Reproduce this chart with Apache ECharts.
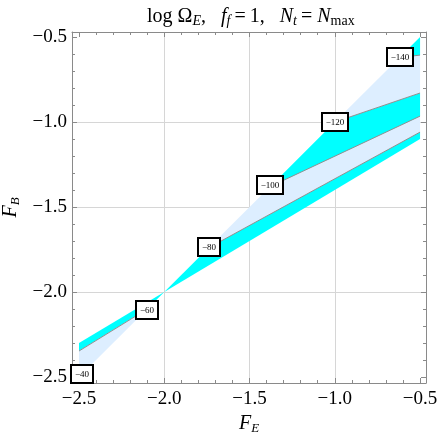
<!DOCTYPE html>
<html>
<head>
<meta charset="utf-8">
<script src="https://cdn.jsdelivr.net/npm/echarts@6/dist/echarts.min.js"></script>
<style>
html,body{margin:0;padding:0;background:#fff;}
#chart{width:441px;height:436px;}
</style>
</head>
<body>
<div id="chart"></div>
<script>
// contour labels, they sit on the F_B = F_E diagonal
const contourLevels = ['−40', '−60', '−80', '−100', '−120', '−140'];
const labelX = [-2.482, -2.101, -1.738, -1.377, -0.999, -0.617];
const labelY = [-2.482, -2.103, -1.732, -1.371, -0.997, -0.615];

// contour lines [start, end]
const line60 = [[-2.5, -2.347], [-2.1, -2.1]];
const line80 = [[-1.74, -1.74], [-0.5, -1.059]];
const line100 = [[-1.38, -1.38], [-0.5, -0.965]];
const line120 = [[-1.0, -1.0], [-0.5, -0.829]];
const line140 = [[-0.62, -0.62], [-0.5, -0.606]];

// filled bands between the contours
const cyanLeft = [[-2.5, -2.3], [-2.0, -2.0], [-2.1, -2.1], [-2.5, -2.347]];
const paleLeft = [[-2.5, -2.347], [-2.1, -2.1], [-2.5, -2.5]];
const cyanBand1 = [[-2.0, -2.0], [-1.74, -1.74], [-0.5, -1.059], [-0.5, -1.1]];
const paleBand2 = [[-1.74, -1.74], [-1.38, -1.38], [-0.5, -0.965], [-0.5, -1.059]];
const cyanBand3 = [[-1.38, -1.38], [-1.0, -1.0], [-0.5, -0.829], [-0.5, -0.965]];
const paleBand4 = [[-1.0, -1.0], [-0.62, -0.62], [-0.5, -0.606], [-0.5, -0.829]];
const cyanBand5 = [[-0.62, -0.62], [-0.5, -0.5], [-0.5, -0.606]];

const bands = [cyanLeft, paleLeft, cyanBand1, paleBand2, cyanBand3, paleBand4, cyanBand5];
const CYAN = '#00ffff', PALE = '#ddeeff';
const bandColors = [CYAN, PALE, CYAN, PALE, CYAN, PALE, CYAN];
const contourLines = [line60, line80, line100, line120, line140];

const serif = 'Liberation Serif';
const frameColor = '#8a8a8a';
const gridColor = '#d6d6d6';
const clear = 'rgba(0,0,0,0)';

function tickText(v) {
    if (Math.abs(v * 2 - Math.round(v * 2)) > 1e-6) return '';
    return v.toFixed(1).replace('-', '−');
}

function frameAxis(pos, min, max, labels, name) {
    const isX = pos === 'bottom' || pos === 'top';
    return {
        type: 'value',
        position: pos,
        min: min,
        max: max,
        name: name || '',
        nameLocation: 'middle',
        nameGap: isX ? 26 : 47,
        nameTextStyle: {
            rich: {
                i: { fontFamily: serif, fontStyle: 'italic', fontSize: 20, color: '#000' },
                s: { fontFamily: serif, fontStyle: 'italic', fontSize: 13, color: '#000', padding: [9, 0, 0, 0] }
            }
        },
        axisLine: { show: true, onZero: false, lineStyle: { color: frameColor, width: 1 } },
        axisTick: { show: true, inside: true, length: 5, lineStyle: { color: frameColor } },
        minorTick: { show: true, splitNumber: 5, length: 3, lineStyle: { color: frameColor } },
        axisLabel: {
            show: labels,
            formatter: tickText,
            fontFamily: serif,
            fontSize: 19,
            color: '#000',
            margin: isX ? 7 : 5
        },
        splitLine: {
            show: labels,
            // lines only at the inner major ticks
            lineStyle: { color: [clear, clear, gridColor, gridColor, gridColor, clear, clear], width: 1 }
        },
        minorSplitLine: { show: false }
    };
}

const chart = echarts.init(document.getElementById('chart'));

const option = {
    animation: false,
    title: {
        text: '{r|log Ω}{si|E}{r|,   }{i|f}{si|f}{r|\u2009=\u20091,   }{i|N}{si|t}{r|\u2009= }{i|N}{su|max}',
        left: 142,
        top: 0,
        textStyle: {
            fontWeight: 'normal',
            rich: {
                r: { fontFamily: serif, fontSize: 20, fontWeight: 'normal', color: '#000' },
                i: { fontFamily: serif, fontSize: 20, fontWeight: 'normal', fontStyle: 'italic', color: '#000' },
                si: { fontFamily: serif, fontSize: 14, fontWeight: 'normal', fontStyle: 'italic', color: '#000', padding: [9, 0, 0, 0] },
                su: { fontFamily: serif, fontSize: 14, fontWeight: 'normal', color: '#000', padding: [9, 0, 0, 0] }
            }
        }
    },
    grid: { left: 72, right: 15, top: 32, bottom: 53, outerBoundsMode: 'none', containLabel: false },
    xAxis: [
        frameAxis('bottom', -2.541, -0.465, true, '{i|F}{s|E}'),
        frameAxis('top', -2.541, -0.465, false)
    ],
    yAxis: [
        frameAxis('left', -2.535, -0.47, true, '{i|F}{s|B}'),
        frameAxis('right', -2.535, -0.47, false)
    ],
    series: [
        {
            type: 'custom',
            xAxisIndex: 0,
            yAxisIndex: 0,
            silent: true,
            z: 1,
            data: bands.map((b, i) => [b[0][0], b[0][1], i]),
            renderItem: function (params, api) {
                const poly = bands[params.dataIndex];
                return {
                    type: 'polygon',
                    shape: { points: poly.map(p => api.coord(p)) },
                    style: { fill: bandColors[params.dataIndex] }
                };
            }
        }
    ].concat(contourLines.map(d => ({
        type: 'line',
        data: d,
        xAxisIndex: 0,
        yAxisIndex: 0,
        showSymbol: false,
        silent: true,
        z: 2,
        color: '#8f8f8f',
        lineStyle: { color: '#8f8f8f', width: 1 }
    }))).concat([
        {
            // boxed contour labels
            type: 'custom',
            xAxisIndex: 0,
            yAxisIndex: 0,
            silent: true,
            z: 3,
            data: contourLevels.map((t, i) => [labelX[i], labelY[i], i]),
            renderItem: function (params, api) {
                const text = contourLevels[params.dataIndex];
                const c = api.coord([api.value(0), api.value(1)]);
                const cx = Math.round(c[0]), cy = Math.round(c[1]);
                const w = text.length > 3 ? 26 : 22, h = 18;
                return {
                    type: 'group',
                    children: [
                        {
                            type: 'rect',
                            shape: { x: cx - w / 2, y: cy - h / 2, width: w, height: h },
                            style: { fill: '#fff', stroke: '#000', lineWidth: 2 }
                        },
                        {
                            type: 'text',
                            style: {
                                text: text, x: cx, y: cy + 0.5,
                                align: 'center', verticalAlign: 'middle',
                                fontFamily: serif, fontSize: 9, fill: '#000'
                            }
                        }
                    ]
                };
            }
        }
    ])
};

chart.setOption(option);
</script>
</body>
</html>
